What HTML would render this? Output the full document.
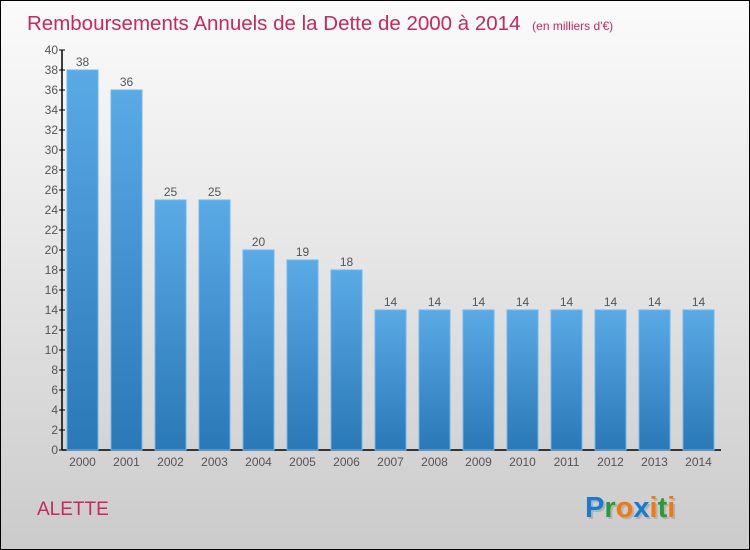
<!DOCTYPE html>
<html><head><meta charset="utf-8"><style>
html,body{margin:0;padding:0;}
body{width:750px;height:550px;overflow:hidden;font-family:"Liberation Sans",sans-serif;}
#wrap{position:relative;width:748px;height:548px;border:1px solid #000;background:linear-gradient(#fbfbfb,#e9e9e9 40%,#cbcbcb);}
</style></head><body>
<div id="wrap">
<svg id="chart" width="748" height="548" style="position:absolute;left:0;top:0">
<defs><linearGradient id="bg" x1="0" y1="0" x2="0" y2="1"><stop offset="0" stop-color="#5aaae6"/><stop offset="1" stop-color="#2a78b6"/></linearGradient></defs>
<text x="26" y="29" font-size="20.5" fill="#c8285a">Remboursements Annuels de la Dette de 2000 à 2014 <tspan font-size="12" dx="6">(en milliers d'€)</tspan></text>
<text x="36" y="514" font-size="19" fill="#c8285a">ALETTE</text>
<g font-size="29" font-family="'Liberation Sans',sans-serif" font-weight="bold">
<text x="586" y="518" fill="#999" opacity="0.5">Proxiti</text>
<text x="584" y="516"><tspan fill="#1a7ad0">P</tspan><tspan fill="#2a9a3a">r</tspan><tspan fill="#f07a10">o</tspan><tspan fill="#1a7ad0">x</tspan><tspan fill="#f07a10">i</tspan><tspan fill="#2a9a3a">t</tspan><tspan fill="#f07a10">i</tspan></text>
</g>
<g id="axes"></g><g id="bars"></g>
</svg>
</div>
<script>
const categories=["2000","2001","2002","2003","2004","2005","2006","2007","2008","2009","2010","2011","2012","2013","2014"];
const values=[38,36,25,25,20,19,18,14,14,14,14,14,14,14,14];
const yTicks=[0,2,4,6,8,10,12,14,16,18,20,22,24,26,28,30,32,34,36,38,40];
const NS="http://www.w3.org/2000/svg";
const x0=61,y0=449,yMax=40,plotH=400,step=44,bw=31,firstX=66;
const y=v=>y0-v/yMax*plotH;
const xb=i=>firstX+i*step;
function mk(t,a,p){const e=document.createElementNS(NS,t);for(const k in a)e.setAttribute(k,a[k]);p.appendChild(e);return e;}
const ax=document.getElementById('axes'),bars=document.getElementById('bars');
const yl=mk('line',{x1:x0,y1:y(yMax),x2:x0,y2:y0,stroke:'#000','stroke-width':1.5},ax);


const xl=mk('line',{x1:x0,y1:y0,x2:720,y2:y0,stroke:'#000','stroke-width':1.5},ax);


yTicks.forEach(t=>{
 mk('line',{x1:x0-3,y1:y(t),x2:x0+3,y2:y(t),stroke:'#000'},ax);
 const tx=mk('text',{x:x0-4,y:y(t)+4,'font-size':12,fill:'#555','text-anchor':'end'},ax);
 tx.textContent=t;
 
 
});
categories.forEach((c,i)=>{
 const r=mk('rect',{x:xb(i),y:y(values[i]),width:bw,height:y0-y(values[i]),fill:'url(#bg)',stroke:'#6ab8f0','stroke-width':1},bars);
 
 
 const vl=mk('text',{x:xb(i)+bw/2,y:y(values[i])-4,'font-size':12,fill:'#555','text-anchor':'middle'},bars);
 vl.textContent=values[i];
 
 
 const cl=mk('text',{x:xb(i)+bw/2,y:y0+16,'font-size':12,fill:'#555','text-anchor':'middle'},bars);
 cl.textContent=c;
 
 
});
</script>
</body></html>
